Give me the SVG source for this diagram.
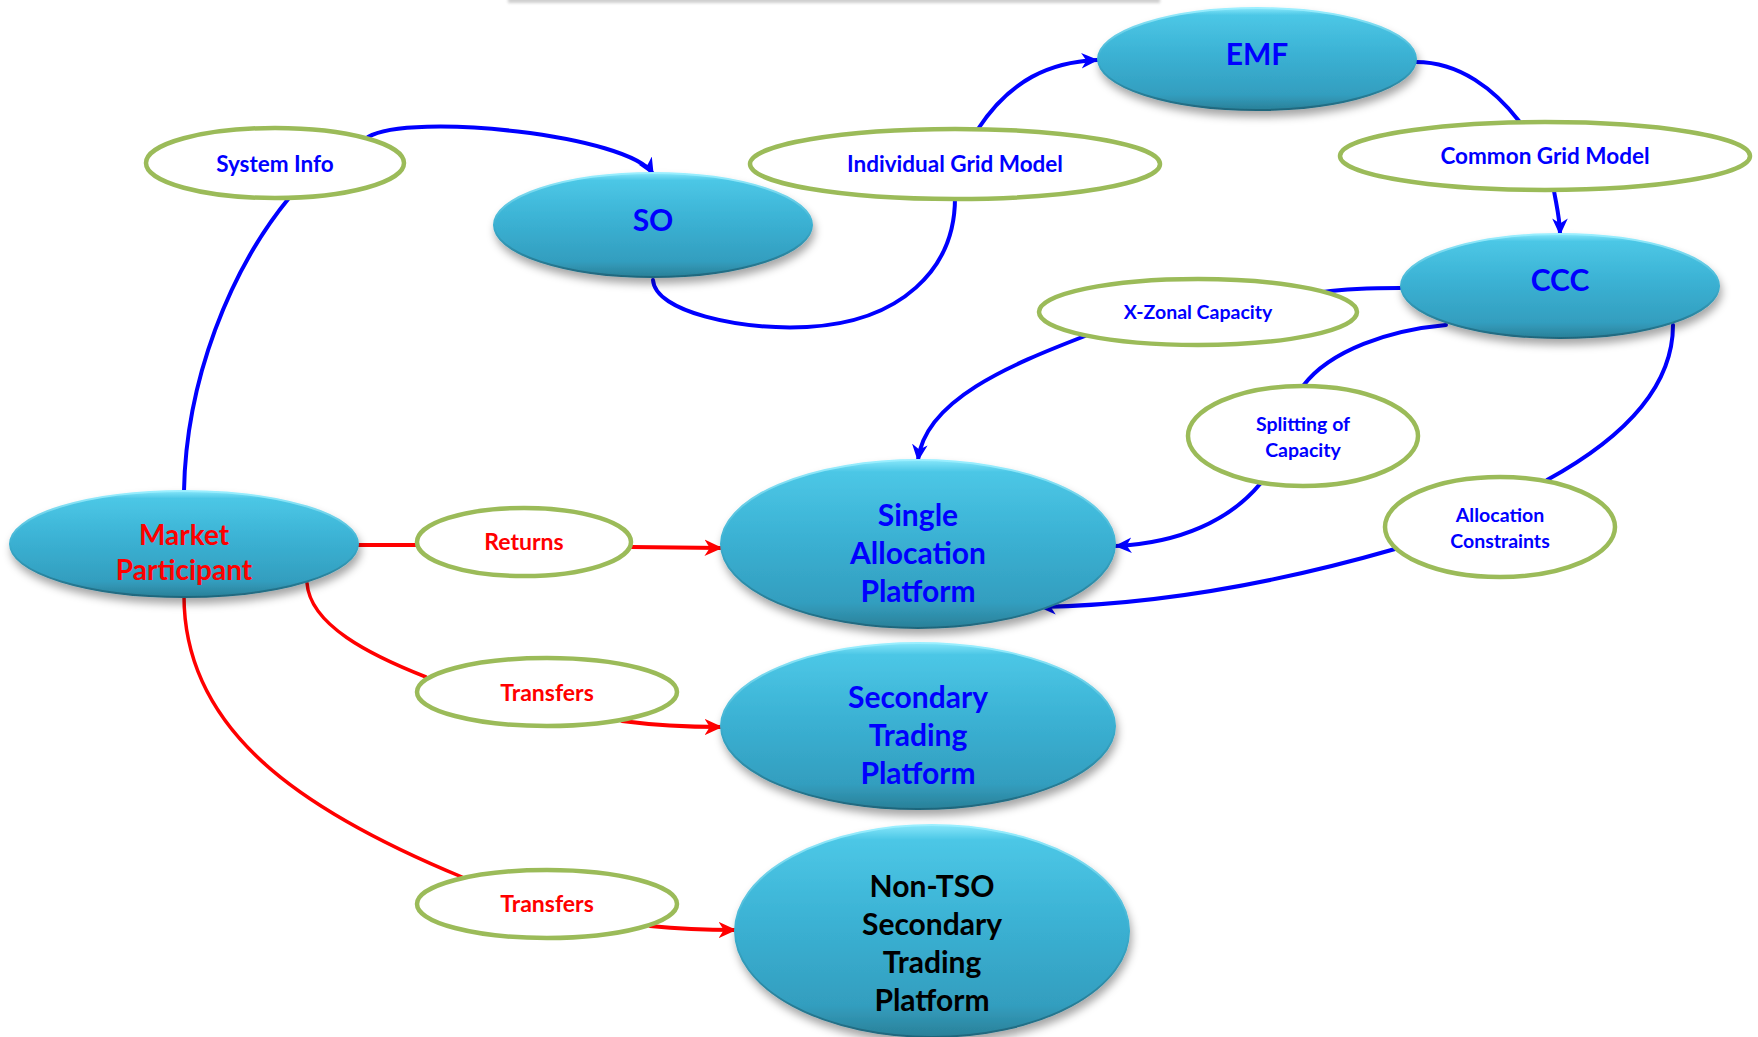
<svg xmlns="http://www.w3.org/2000/svg" width="1758" height="1037" viewBox="0 0 1758 1037">
  <defs>
    <linearGradient id="nodeFill" x1="0" y1="0" x2="0" y2="1">
      <stop offset="0" stop-color="#86E6FA"/>
      <stop offset="0.07" stop-color="#4CC7E6"/>
      <stop offset="0.45" stop-color="#3BB2D4"/>
      <stop offset="0.85" stop-color="#339EBF"/>
      <stop offset="1" stop-color="#2A8098"/>
    </linearGradient>
    <linearGradient id="nodeRim" x1="0" y1="0" x2="0" y2="1">
      <stop offset="0" stop-color="#9BEFFF"/>
      <stop offset="0.5" stop-color="#3AAFD0"/>
      <stop offset="1" stop-color="#1F667C"/>
    </linearGradient>
    <filter id="shadow" x="-20%" y="-20%" width="140%" height="150%">
      <feGaussianBlur in="SourceAlpha" stdDeviation="4"/>
      <feOffset dx="2" dy="6" result="b"/>
      <feFlood flood-color="#000" flood-opacity="0.35"/>
      <feComposite in2="b" operator="in"/>
      <feMerge>
        <feMergeNode/>
        <feMergeNode in="SourceGraphic"/>
      </feMerge>
    </filter>
    <filter id="soft" x="-5%" y="-200%" width="110%" height="500%">
      <feGaussianBlur stdDeviation="1.5"/>
    </filter>
    <marker id="arrowBlue" viewBox="0 0 12 12" refX="11" refY="6" markerWidth="17" markerHeight="17" orient="auto" markerUnits="userSpaceOnUse">
      <path d="M0,0.5 L12,6 L0,11.5 L3.5,6 z" fill="#0000FF"/>
    </marker>
    <marker id="arrowRed" viewBox="0 0 12 12" refX="11" refY="6" markerWidth="18" markerHeight="18" orient="auto" markerUnits="userSpaceOnUse">
      <path d="M0,0.5 L12,6 L0,11.5 L3.5,6 z" fill="#FF0000"/>
    </marker>
  </defs>
  <style>
    .node ellipse { fill: url(#nodeFill); stroke: url(#nodeRim); stroke-width: 2; filter: url(#shadow); }
    .label ellipse { fill: #FFFFFF; stroke: #9BBB59; stroke-width: 4.5; }
    text { font-family: Lato, "Open Sans", "Liberation Sans", sans-serif; font-weight: bold; text-anchor: middle; dominant-baseline: central; }
    .big { font-size: 30px; }
    .mid { font-size: 28px; }
    .small { font-size: 22.5px; }
    .tiny { font-size: 19.5px; }
    .redlabel { font-size: 23px; }
    .blue { fill: #0000FF; }
    .red { fill: #FF0000; }
    .black { fill: #000000; }
    .wire { fill: none; stroke-linecap: round; }
    .b { stroke: #0000FF; stroke-width: 4; }
    .r { stroke: #FF0000; stroke-width: 4; }
    .rt { stroke: #FF0000; stroke-width: 3.5; }
  </style>

  <rect width="1758" height="1037" fill="#FFFFFF"/>

  <!-- edge of a panel along the top -->
  <rect x="508" y="-6" width="652" height="9" fill="#CFCFCF" filter="url(#soft)"/>

  <!-- connectors -->
  <g id="connectors" class="wire">
    <path class="b" d="M368,137 C410,112 630,135 653,174" marker-end="url(#arrowBlue)"/>
    <path class="b" d="M289,198 C230,270 186,380 184,491"/>
    <path class="b" d="M653,280 C655,312 740,330 807,327 C900,322 955,270 955,198"/>
    <path class="b" d="M978,129 C1010,80 1050,62 1097,60" marker-end="url(#arrowBlue)"/>
    <path class="b" d="M1416,62 C1460,62 1495,90 1519,121"/>
    <path class="b" d="M1554,191 C1557,208 1560,220 1560,234" marker-end="url(#arrowBlue)"/>
    <path class="b" d="M1400,288 C1370,288 1345,289 1323,292"/>
    <path class="b" d="M1085,336 C1010,365 925,400 918,460" marker-end="url(#arrowBlue)"/>
    <path class="b" d="M1446,325 C1390,330 1330,350 1303,386"/>
    <path class="b" d="M1260,484 C1230,520 1180,543 1116,546" marker-end="url(#arrowBlue)"/>
    <path class="b" d="M1673,325 C1673,390 1620,440 1547,480"/>
    <path class="b" d="M1395,549 C1270,585 1150,605 1040,607" marker-end="url(#arrowBlue)"/>

    <path class="r" d="M358,545 L417,545"/>
    <path class="r" d="M631,547 L721,548" marker-end="url(#arrowRed)"/>
    <path class="rt" d="M307,583 C310,625 370,655 426,677"/>
    <path class="r" d="M622,721 C660,726 690,727 721,727" marker-end="url(#arrowRed)"/>
    <path class="rt" d="M184,596 C184,730 300,810 462,877"/>
    <path class="r" d="M650,926 C690,930 710,930 735,930" marker-end="url(#arrowRed)"/>
  </g>

  <!-- label ellipses -->
  <g id="system-info" class="label">
    <ellipse cx="275" cy="163" rx="129" ry="35"/>
    <text class="small blue" x="275" y="163">System Info</text>
  </g>
  <g id="individual-grid-model" class="label">
    <ellipse cx="955" cy="164" rx="205" ry="35"/>
    <text class="small blue" x="955" y="163">Individual Grid Model</text>
  </g>
  <g id="common-grid-model" class="label">
    <ellipse cx="1545" cy="156" rx="205" ry="34"/>
    <text class="small blue" x="1545" y="155">Common Grid Model</text>
  </g>
  <g id="x-zonal-capacity" class="label">
    <ellipse cx="1198" cy="312" rx="159" ry="33"/>
    <text class="tiny blue" x="1198" y="311">X-Zonal Capacity</text>
  </g>
  <g id="splitting-of-capacity" class="label">
    <ellipse cx="1303" cy="436" rx="115" ry="50"/>
    <text class="tiny blue" x="1303" y="423">Splitting of</text>
    <text class="tiny blue" x="1303" y="449">Capacity</text>
  </g>
  <g id="allocation-constraints" class="label">
    <ellipse cx="1500" cy="527" rx="115" ry="50"/>
    <text class="tiny blue" x="1500" y="514">Allocation</text>
    <text class="tiny blue" x="1500" y="540">Constraints</text>
  </g>
  <g id="returns" class="label">
    <ellipse cx="524" cy="542" rx="107" ry="34"/>
    <text class="redlabel red" x="524" y="541">Returns</text>
  </g>
  <g id="transfers-secondary" class="label">
    <ellipse cx="547" cy="692" rx="130" ry="34"/>
    <text class="redlabel red" x="547" y="692">Transfers</text>
  </g>
  <g id="transfers-non-tso" class="label">
    <ellipse cx="547" cy="904" rx="130" ry="34"/>
    <text class="redlabel red" x="547" y="903">Transfers</text>
  </g>

  <!-- main nodes -->
  <g id="emf" class="node">
    <ellipse cx="1257" cy="59" rx="159" ry="51"/>
    <text class="big blue" x="1257" y="53">EMF</text>
  </g>
  <g id="so" class="node">
    <ellipse cx="653" cy="225" rx="159" ry="52"/>
    <text class="big blue" x="653" y="219">SO</text>
  </g>
  <g id="ccc" class="node">
    <ellipse cx="1560" cy="286" rx="159" ry="52"/>
    <text class="big blue" x="1560" y="279">CCC</text>
  </g>
  <g id="market-participant" class="node">
    <ellipse cx="184" cy="544" rx="174" ry="53"/>
    <text class="mid red" x="184" y="534">Market</text>
    <text class="mid red" x="184" y="569">Participant</text>
  </g>
  <g id="single-allocation-platform" class="node">
    <ellipse cx="918" cy="544" rx="197" ry="84"/>
    <text class="big blue" x="918" y="514">Single</text>
    <text class="big blue" x="918" y="552">Allocation</text>
    <text class="big blue" x="918" y="590">Platform</text>
  </g>
  <g id="secondary-trading-platform" class="node">
    <ellipse cx="918" cy="726" rx="197" ry="83"/>
    <text class="big blue" x="918" y="696">Secondary</text>
    <text class="big blue" x="918" y="734">Trading</text>
    <text class="big blue" x="918" y="772">Platform</text>
  </g>
  <g id="non-tso-secondary-trading-platform" class="node">
    <ellipse cx="932" cy="931" rx="197" ry="106"/>
    <text class="big black" x="932" y="885">Non-TSO</text>
    <text class="big black" x="932" y="923">Secondary</text>
    <text class="big black" x="932" y="961">Trading</text>
    <text class="big black" x="932" y="999">Platform</text>
  </g>
</svg>
